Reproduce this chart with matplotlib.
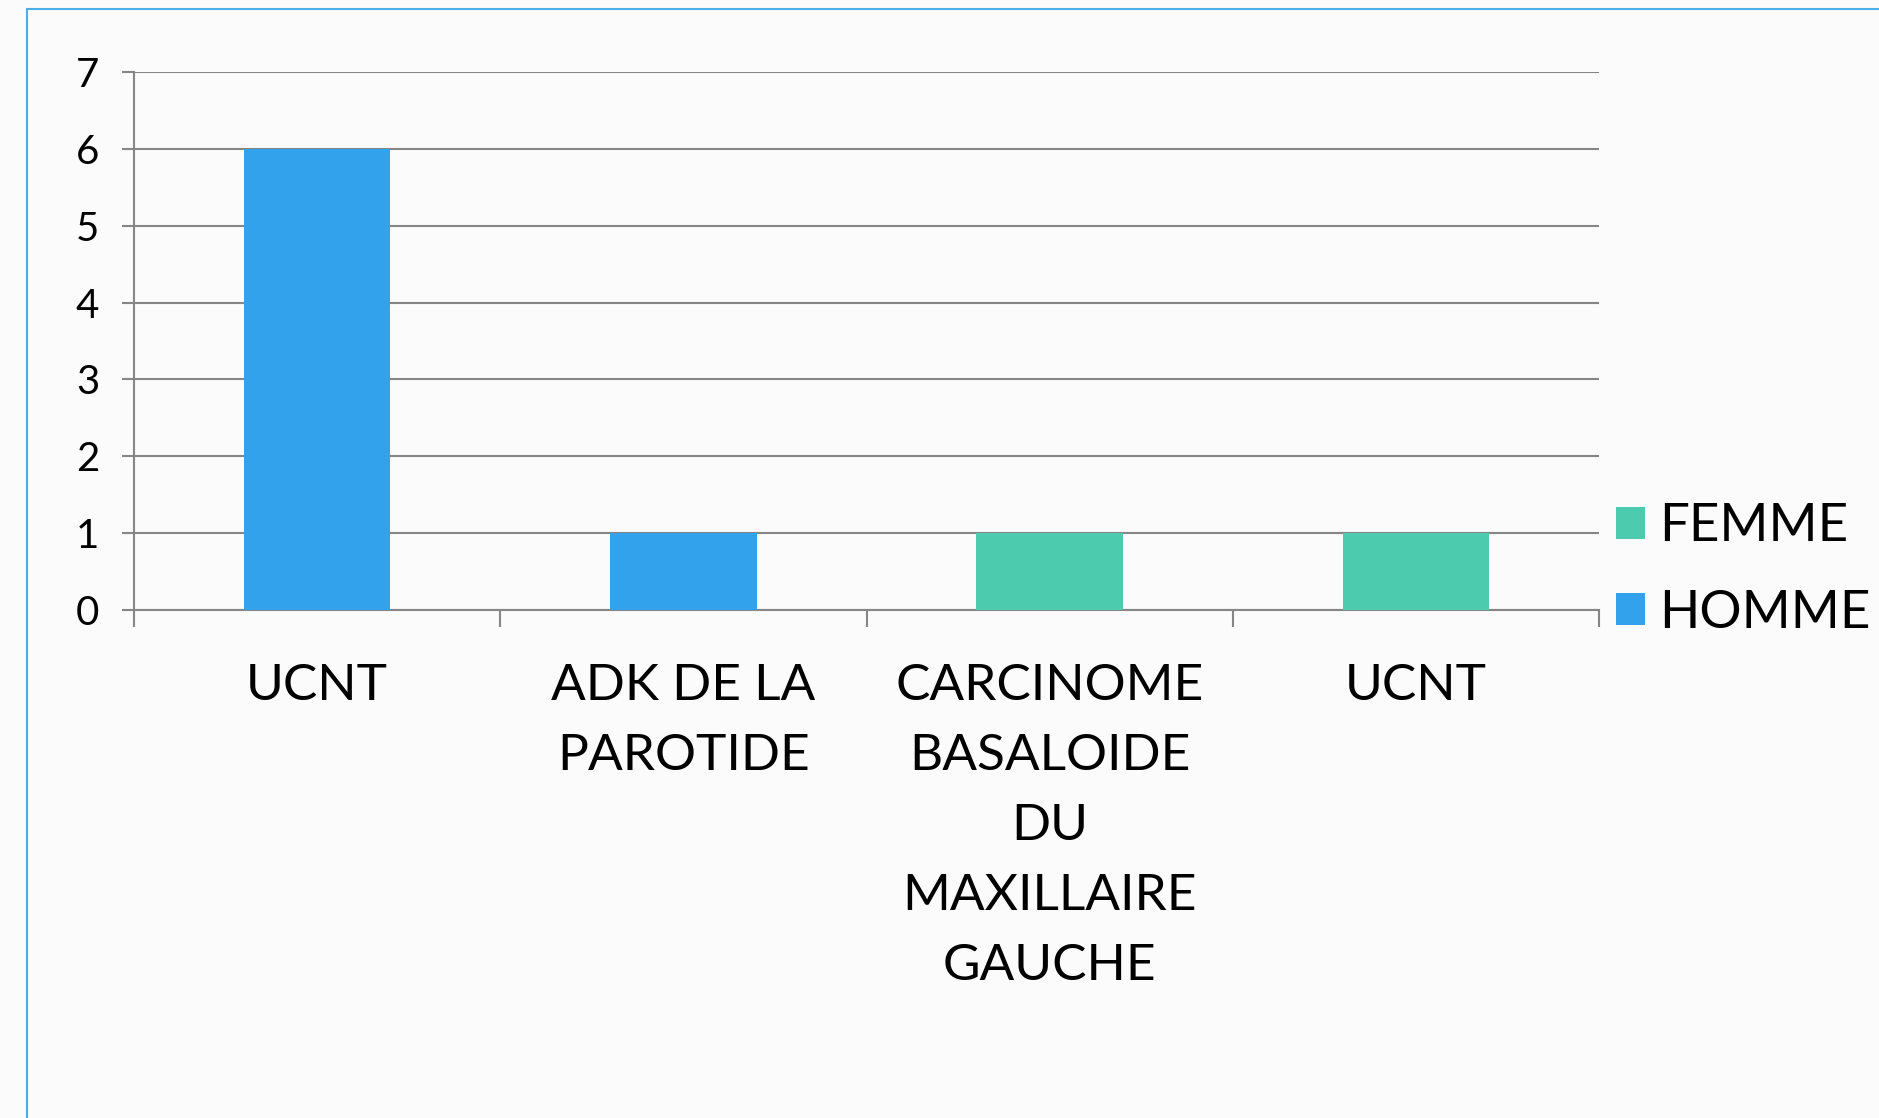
import matplotlib.pyplot as plt
from matplotlib.patches import Rectangle

# Data
categories = ["UCNT", "ADK DE LA\nPAROTIDE", "CARCINOME\nBASALOIDE\nDU\nMAXILLAIRE\nGAUCHE", "UCNT"]
homme = [6, 1, 0, 0]
femme = [0, 0, 1, 1]
y_ticks = [0, 1, 2, 3, 4, 5, 6, 7]

blue = "#31A2EB"
green = "#4DCBAE"
grey = "#868686"

plt.rcParams["font.family"] = ["Lato", "DejaVu Sans"]

fig = plt.figure(figsize=(18.79, 11.18), dpi=100, facecolor="#FBFBFB")
ax = fig.add_axes([0.0713, 0.4544, 0.851 - 0.0713, 0.9356 - 0.4544])
ax.set_facecolor("#FBFBFB")

x = list(range(len(categories)))
ax.bar(x, homme, width=0.4, color=blue, label="HOMME", zorder=3)
ax.bar(x, femme, width=0.4, bottom=homme, color=green, label="FEMME", zorder=3)

ax.set_xlim(-0.5, len(categories) - 0.5)
ax.set_ylim(0, 7)
ax.set_yticks(y_ticks)
ax.set_yticklabels([str(v) for v in y_ticks], fontsize=29)
ax.yaxis.grid(True, color=grey, linewidth=1.5, zorder=0)

# category ticks sit on the boundaries between groups
ax.set_xticks([i - 0.5 for i in range(len(categories) + 1)])
ax.set_xticklabels([])
ax.set_xticks(x, minor=True)
ax.set_xticklabels(categories, minor=True, fontsize=37, linespacing=1.65)
ax.tick_params(axis="x", which="major", length=12, width=1.5, color=grey)
ax.tick_params(axis="x", which="minor", length=0, pad=38)
ax.tick_params(axis="y", length=9, width=1.5, color=grey, pad=16)

for side in ["top", "right"]:
    ax.spines[side].set_visible(False)
for side in ["left", "bottom"]:
    ax.spines[side].set_color(grey)
    ax.spines[side].set_linewidth(1.5)

handles, labels = ax.get_legend_handles_labels()
leg = fig.legend(handles[::-1], labels[::-1], loc="center left",
                 bbox_to_anchor=(0.835, 0.49), frameon=False, fontsize=38,
                 handlelength=0.55, handleheight=0.55, handletextpad=0.25,
                 labelspacing=0.75)

# blue slide frame
fig.patches.append(Rectangle((27 / 1879, -0.1), 1.2, 1 - 9 / 1118 + 0.1,
                             transform=fig.transFigure, fill=False,
                             edgecolor="#4AAEEA", linewidth=1.5))

fig.savefig("out.png", dpi=100, facecolor=fig.get_facecolor())
